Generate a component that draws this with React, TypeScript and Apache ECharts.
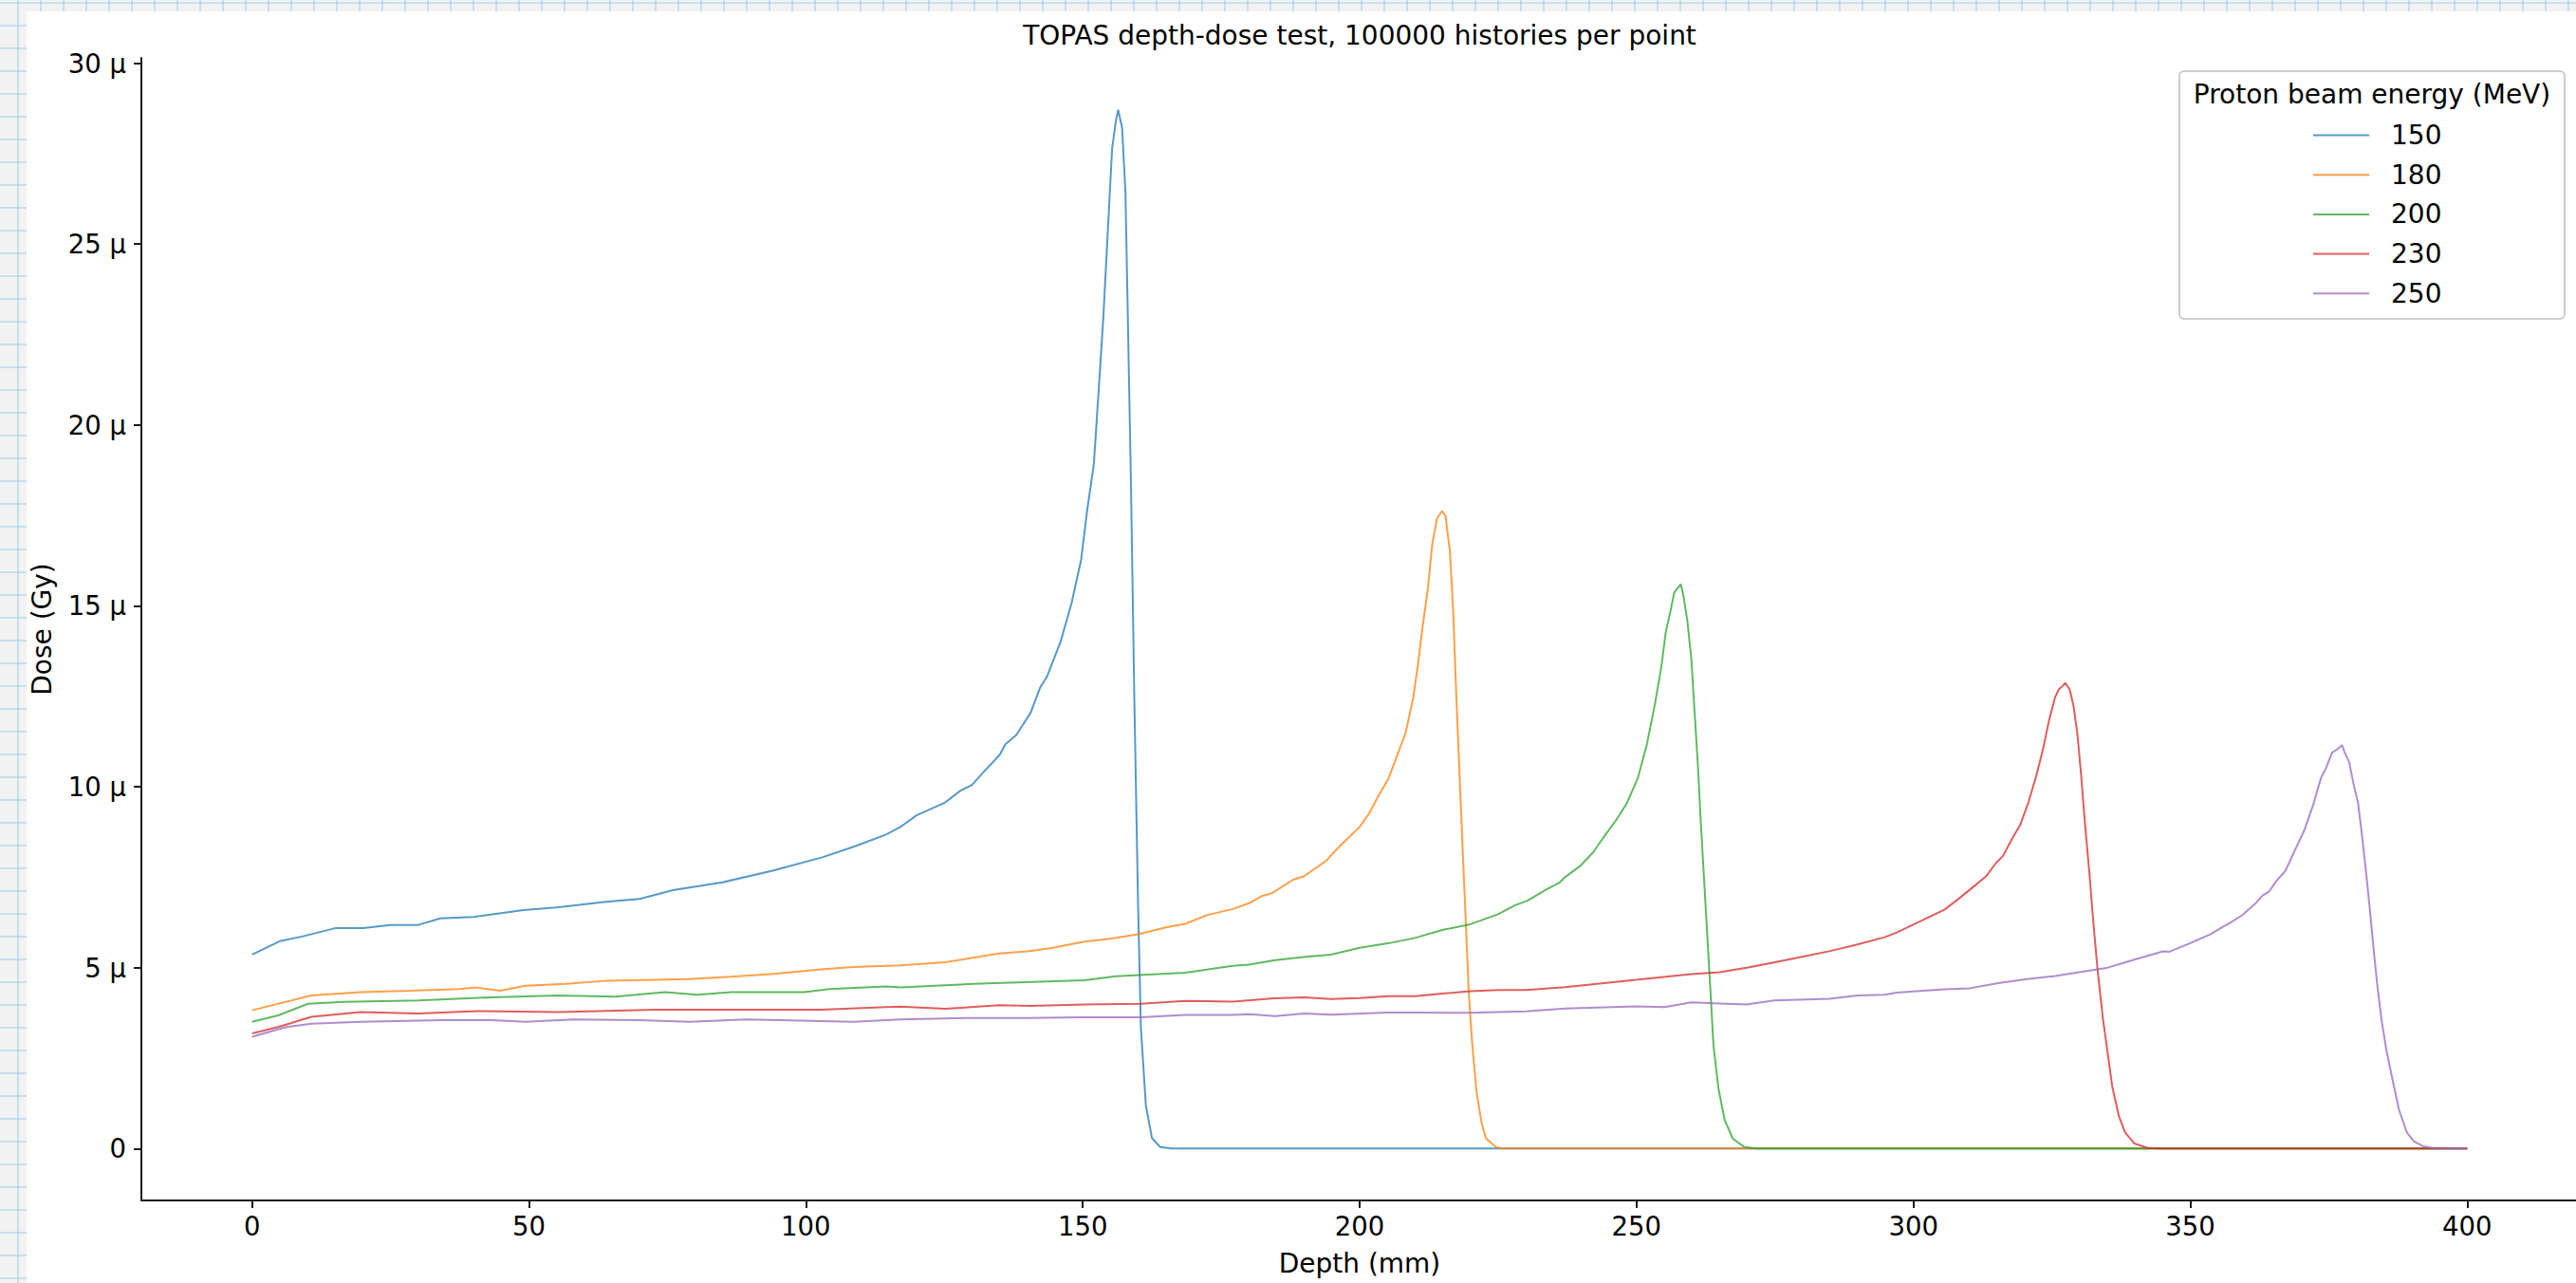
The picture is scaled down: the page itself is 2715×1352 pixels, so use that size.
import React, { useEffect, useRef } from "react";
import * as echarts from "echarts";

// ---- data (depth in mm, dose in µGy) ----
const energies = ["150", "180", "200", "230", "250"];
const colors = ["#1f77b4", "#ff7f0e", "#2ca02c", "#d62728", "#9467bd"];

const dose150: [number, number][] = [
  [0, 5.36], [5, 5.73], [9, 5.86], [15, 6.09], [20, 6.09], [25, 6.18], [30, 6.18], [34, 6.36],
  [40, 6.4], [49, 6.59], [55, 6.66], [64, 6.82], [70, 6.9], [76, 7.14], [85, 7.36], [94, 7.68],
  [103, 8.05], [109, 8.36], [114.5, 8.68], [117, 8.88], [120, 9.21], [125, 9.55], [128, 9.9],
  [130, 10.05], [132, 10.39], [135, 10.88], [136, 11.17], [138, 11.43], [140.6, 12.05],
  [142.3, 12.74], [143.5, 13.03], [146, 14.01], [148, 15.09], [149.7, 16.27], [150.8, 17.64],
  [152, 18.91], [152.8, 20.78], [153.7, 22.93], [154.5, 25.28], [155.3, 27.64], [156, 28.42],
  [156.4, 28.71], [156.8, 28.42], [157.1, 28.22], [157.7, 26.46], [158.1, 23.32], [158.7, 18.42],
  [159.3, 12.54], [160, 6.66], [160.5, 3.33], [161.4, 1.18], [162.5, 0.29], [164, 0.04],
  [166, 0], [400, 0],
];

const dose180: [number, number][] = [
  [0, 3.82], [10.7, 4.23], [19.6, 4.32], [28.5, 4.36], [37.4, 4.41], [40.4, 4.45], [44.8, 4.36],
  [49.3, 4.5], [56.7, 4.55], [64.1, 4.64], [78.9, 4.68], [93.8, 4.82], [102.7, 4.95], [108.6, 5.02],
  [117.1, 5.06], [125.1, 5.15], [134.9, 5.39], [140, 5.45], [144.6, 5.55], [150.3, 5.72],
  [154.9, 5.8], [160, 5.92], [165.2, 6.12], [168.5, 6.21], [172.4, 6.45], [177.1, 6.62],
  [180, 6.78], [182.2, 6.97], [184.2, 7.06], [188, 7.43], [190, 7.53], [194, 7.96], [195.1, 8.15],
  [197.1, 8.46], [200, 8.89], [201.7, 9.26], [203.4, 9.75], [205.1, 10.19], [206.5, 10.75],
  [208.3, 11.49], [209.7, 12.48], [210.5, 13.34], [211.4, 14.46], [212.3, 15.45], [213.1, 16.69],
  [214, 17.43], [214.9, 17.62], [215.5, 17.49], [216.3, 16.5], [216.9, 14.83], [217.4, 12.73],
  [218, 10.5], [218.6, 8.27], [219.2, 6.16], [219.7, 4.31], [220.3, 2.95], [221.1, 1.58],
  [222, 0.72], [222.8, 0.28], [224.6, 0.04], [225.7, 0], [400, 0],
];

const dose200: [number, number][] = [
  [0, 3.5], [4.7, 3.68], [10.1, 4.0], [16.6, 4.05], [30, 4.09], [43.3, 4.18], [55.2, 4.23],
  [65.6, 4.2], [74.5, 4.32], [80.4, 4.25], [86.4, 4.32], [93.8, 4.32], [99.7, 4.32], [104.2, 4.41],
  [114.5, 4.48], [117.1, 4.45], [125.1, 4.51], [130.2, 4.55], [150.3, 4.65], [156, 4.76],
  [168.5, 4.86], [177.1, 5.05], [180, 5.08], [184.8, 5.21], [190.3, 5.3], [194.8, 5.36],
  [200, 5.55], [205.1, 5.67], [210, 5.82], [214.9, 6.04], [220, 6.2], [224.9, 6.47], [228, 6.72],
  [230.3, 6.85], [233.7, 7.16], [236, 7.34], [237.1, 7.5], [239.9, 7.82], [242.2, 8.19],
  [243.9, 8.57], [246.2, 9.05], [248.2, 9.53], [250.2, 10.22], [251.9, 11.19], [253.3, 12.26],
  [254.5, 13.33], [255.3, 14.29], [256.1, 14.83], [256.8, 15.36], [257.3, 15.47], [258, 15.6],
  [258.5, 15.26], [259.2, 14.56], [259.9, 13.54], [260.5, 12.04], [261.1, 10.55], [261.6, 9.05],
  [262.2, 7.44], [262.8, 5.84], [263.4, 4.23], [263.9, 2.84], [264.8, 1.66], [265.9, 0.8],
  [267.4, 0.27], [269.4, 0.05], [271.4, 0], [400, 0],
];

const dose230: [number, number][] = [
  [0, 3.18], [4.7, 3.36], [10.7, 3.64], [19.6, 3.77], [30, 3.73], [40.4, 3.8], [55.2, 3.77],
  [73, 3.84], [93.8, 3.84], [102.7, 3.84], [114.5, 3.91], [117.1, 3.92], [125.1, 3.86],
  [134.9, 3.96], [140.6, 3.94], [150.3, 3.98], [160.5, 4.0], [168.5, 4.08], [177.1, 4.06],
  [184.5, 4.15], [190, 4.18], [194.8, 4.13], [200, 4.16], [205.1, 4.21], [210, 4.21],
  [214.9, 4.28], [220, 4.35], [225.1, 4.38], [230, 4.38], [237.1, 4.46], [249.9, 4.66],
  [259.9, 4.82], [265, 4.87], [269.9, 5.0], [274.8, 5.14], [279.9, 5.3], [285, 5.46],
  [289.9, 5.64], [294.8, 5.84], [297, 5.97], [301.5, 6.3], [305.6, 6.6], [307.9, 6.87],
  [310.8, 7.23], [313.1, 7.52], [314.8, 7.87], [316.2, 8.09], [317.6, 8.5], [319.3, 8.95],
  [320.8, 9.58], [322.2, 10.31], [323.4, 11.03], [324.5, 11.84], [325.6, 12.48], [326.3, 12.7],
  [327, 12.79], [327.4, 12.87], [328.2, 12.7], [328.9, 12.25], [329.6, 11.48], [330.3, 10.31],
  [331, 8.95], [331.8, 7.59], [332.5, 6.24], [333.3, 4.88], [334.2, 3.62], [335.1, 2.62],
  [335.9, 1.72], [337.1, 0.9], [338.2, 0.45], [339.9, 0.14], [342.2, 0.02], [344.5, 0], [400, 0],
];

const dose250: [number, number][] = [
  [0, 3.09], [6.2, 3.36], [10.7, 3.45], [19.6, 3.5], [34.4, 3.55], [43.3, 3.55], [49.3, 3.5],
  [58.2, 3.57], [70, 3.55], [78.9, 3.5], [89.3, 3.57], [108.6, 3.5], [117.1, 3.57], [129, 3.61],
  [140, 3.61], [149.7, 3.63], [160.5, 3.63], [168.5, 3.69], [177.1, 3.69], [180, 3.71],
  [184.8, 3.66], [190, 3.73], [194.8, 3.7], [205.1, 3.76], [210, 3.76], [220, 3.75], [230, 3.79],
  [237.1, 3.87], [249.9, 3.93], [255.1, 3.91], [259.9, 4.04], [265, 4.01], [269.9, 3.98],
  [274.8, 4.09], [284.8, 4.14], [289.9, 4.23], [294.8, 4.25], [297, 4.31], [305.6, 4.4],
  [310.2, 4.43], [315.3, 4.57], [320.5, 4.68], [325.6, 4.77], [330.2, 4.88], [335.1, 5.0],
  [339.9, 5.22], [345.1, 5.45], [346.2, 5.44], [349.6, 5.65], [353.6, 5.92], [355.9, 6.13],
  [357, 6.22], [359.3, 6.44], [361.9, 6.79], [363, 6.99], [364.2, 7.1], [365.6, 7.4], [367.2, 7.68],
  [369, 8.28], [370.5, 8.76], [372.2, 9.5], [373.6, 10.24], [374.5, 10.51], [375.6, 10.94],
  [376.5, 11.03], [377.4, 11.15], [377.9, 10.94], [378.7, 10.68], [379.5, 10.07], [380.3, 9.55],
  [381, 8.67], [381.7, 7.71], [382.4, 6.66], [383.1, 5.52], [383.8, 4.48], [384.5, 3.6],
  [385.4, 2.73], [386.6, 1.85], [387.7, 1.07], [389.1, 0.45], [390.3, 0.21], [392, 0.06],
  [393.7, 0.02], [400, 0],
];

const seriesData = [dose150, dose180, dose200, dose230, dose250];
const xTicks = [0, 50, 100, 150, 200, 250, 300, 350, 400];
const yTicks = [0, 5, 10, 15, 20, 25, 30];

const titleText = "TOPAS depth-dose test, 100000 histories per point";
const legendTitle = "Proton beam energy (MeV)";
const xName = "Depth (mm)";
const yName = "Dose (Gy)";

const FONT = "DejaVu Sans";

export default function App() {
  const ref = useRef<HTMLDivElement>(null);
  useEffect(() => {
    document.body.style.margin = "0";
    const chart = echarts.init(ref.current as HTMLDivElement, null, { renderer: "svg" });
    const axisColor = "#1a1a1a";
    chart.setOption({
      animation: false,
      textStyle: { fontFamily: FONT, color: "#000" },
      grid: {
        left: 121,
        top: 49,
        width: 2568,
        height: 1204,
        containLabel: false,
        outerBoundsMode: "none",
      },
      xAxis: {
        type: "value",
        min: -20,
        max: 420,
        name: xName,
        nameLocation: "middle",
        nameGap: 52,
        nameTextStyle: { fontSize: 28, color: "#000", fontFamily: FONT },
        axisLine: { show: true, onZero: false, lineStyle: { color: axisColor, width: 2 } },
        axisTick: { show: true, length: 8, customValues: xTicks, lineStyle: { color: axisColor, width: 2 } },
        axisLabel: { customValues: xTicks, fontSize: 27.5, color: "#000", margin: 13, fontFamily: FONT },
        splitLine: { show: false },
      },
      yAxis: {
        type: "value",
        min: -1.4355,
        max: 30.1455,
        name: yName,
        nameLocation: "middle",
        nameGap: 91,
        nameTextStyle: { fontSize: 28, color: "#000", fontFamily: FONT },
        axisLine: { show: true, onZero: false, lineStyle: { color: axisColor, width: 2 } },
        axisTick: { show: true, length: 8, customValues: yTicks, lineStyle: { color: axisColor, width: 2 } },
        axisLabel: {
          customValues: yTicks,
          fontSize: 27.5,
          color: "#000",
          margin: 16,
          fontFamily: FONT,
          formatter: (v: number) => (v === 0 ? "0" : `${v} \u00b5`),
        },
        splitLine: { show: false },
      },
      legend: {
        orient: "vertical",
        left: 2404,
        top: 111.5,
        itemWidth: 59,
        itemHeight: 28,
        itemGap: 13.7,
        data: energies,
        itemStyle: { opacity: 0 },
        textStyle: { fontSize: 28, color: "#000", fontFamily: FONT, padding: [0, 0, 0, 18] },
        z: 10,
      },
      graphic: [
        {
          type: "rect",
          z: 5,
          shape: { x: 2269, y: 63, width: 406, height: 261, r: 5 },
          style: { fill: "rgba(255,255,255,0.85)", stroke: "#cccccc", lineWidth: 2 },
        },
        {
          type: "text",
          z: 6,
          x: 2472,
          y: 87,
          style: {
            text: legendTitle,
            fontSize: 28,
            fontFamily: FONT,
            fill: "#000",
            align: "center",
            verticalAlign: "middle",
          },
        },
        {
          type: "text",
          z: 6,
          x: 1405,
          y: 25,
          style: {
            text: titleText,
            fontSize: 28,
            fontFamily: FONT,
            fill: "#000",
            align: "center",
            verticalAlign: "middle",
          },
        },
      ],
      series: seriesData.map((d, i) => ({
        name: energies[i],
        type: "line",
        data: d,
        symbol: "none",
        showSymbol: false,
        color: colors[i],
        lineStyle: { width: 2, color: colors[i], opacity: 0.75 },
        z: 2 + i,
      })),
    });
    return () => chart.dispose();
  }, []);

  return (
    <div
      style={{
        position: "relative",
        width: 2715,
        height: 1352,
        overflow: "hidden",
        backgroundColor: "#f2f2f2",
        backgroundImage:
          "linear-gradient(to right, rgba(130,195,230,0.4) 2px, transparent 2px), linear-gradient(to bottom, rgba(130,195,230,0.4) 2px, transparent 2px)",
        backgroundSize: "24px 24px",
        backgroundPosition: "18px 2px",
      }}
    >
      <div style={{ position: "absolute", left: 28, top: 12, width: 2700, height: 1340, background: "#ffffff" }}>
        <div ref={ref} style={{ width: 2700, height: 1340 }} />
      </div>
    </div>
  );
}
